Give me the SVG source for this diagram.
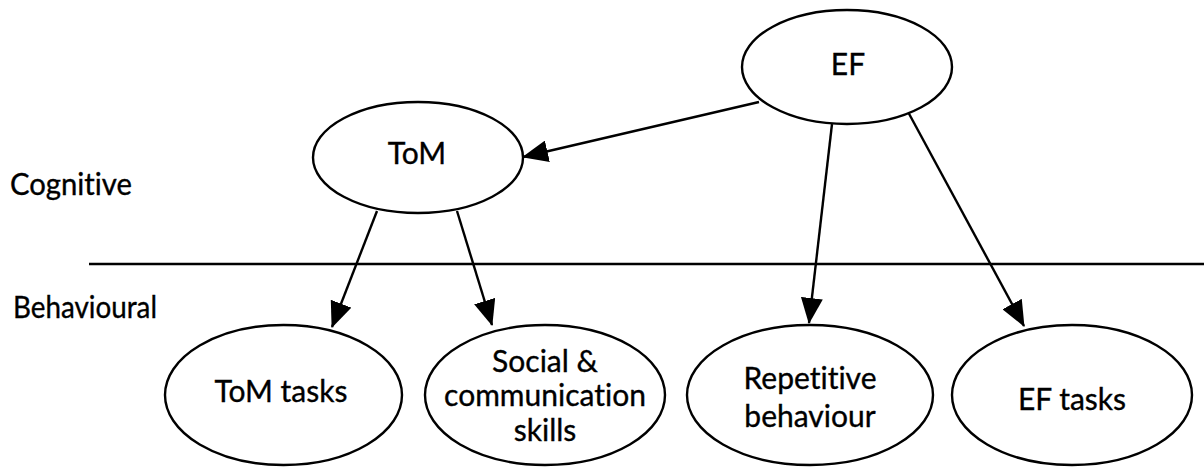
<svg xmlns="http://www.w3.org/2000/svg" width="1204" height="467" viewBox="0 0 1204 467">
<style>
.node{fill:#fff;stroke:#000;stroke-width:2.4}
.t,.lbl{font-family:Lato,"Open Sans","Liberation Sans",sans-serif;font-size:30px;fill:#000;stroke:#000;stroke-width:0.35;font-variant-ligatures:none}
.t{text-anchor:middle}
.edge{stroke:#000;stroke-width:2.4;fill:none;marker-end:url(#arr)}
</style>
<defs>
<marker id="arr" markerUnits="userSpaceOnUse" markerWidth="26" markerHeight="22" viewBox="0 0 26 22" refX="25" refY="11" orient="auto">
<path d="M0,0 L26,11 L0,22 Z" fill="#000"/>
</marker>
</defs>
<rect width="1204" height="467" fill="#fff"/>
<text class="lbl" x="10" y="195" textLength="122" lengthAdjust="spacingAndGlyphs">Cognitive</text>
<text class="lbl" x="13" y="318" textLength="144" lengthAdjust="spacingAndGlyphs">Behavioural</text>
<line x1="89" y1="264" x2="1204" y2="264" stroke="#000" stroke-width="2.4"/>
<g id="connectors">
<line class="edge" x1="759" y1="102" x2="523" y2="157"/>
<line class="edge" x1="377" y1="211" x2="332" y2="327"/>
<line class="edge" x1="457" y1="211" x2="492" y2="325"/>
<line class="edge" x1="832" y1="124" x2="809" y2="323"/>
<line class="edge" x1="907" y1="110" x2="1024" y2="326"/>
</g>
<g id="EF"><ellipse class="node" cx="847" cy="67" rx="105" ry="57"/><text class="t" x="848" y="75">EF</text></g>
<g id="ToM"><ellipse class="node" cx="418" cy="157.5" rx="105" ry="55.5"/><text class="t" x="417" y="164">ToM</text></g>
<g id="ToMtasks"><ellipse class="node" cx="283.5" cy="395" rx="118.5" ry="70"/><text class="t" x="281" y="402">ToM tasks</text></g>
<g id="Social"><ellipse class="node" cx="545" cy="395" rx="120" ry="70"/><text class="t" x="545" y="372">Social &amp;</text><text class="t" x="545" y="406">communication</text><text class="t" x="545" y="441">skills</text></g>
<g id="Repetitive"><ellipse class="node" cx="810" cy="395" rx="123" ry="70"/><text class="t" x="810" y="389">Repetitive</text><text class="t" x="810" y="427">behaviour</text></g>
<g id="EFtasks"><ellipse class="node" cx="1072" cy="395" rx="120" ry="70"/><text class="t" x="1072" y="410">EF tasks</text></g>
</svg>
